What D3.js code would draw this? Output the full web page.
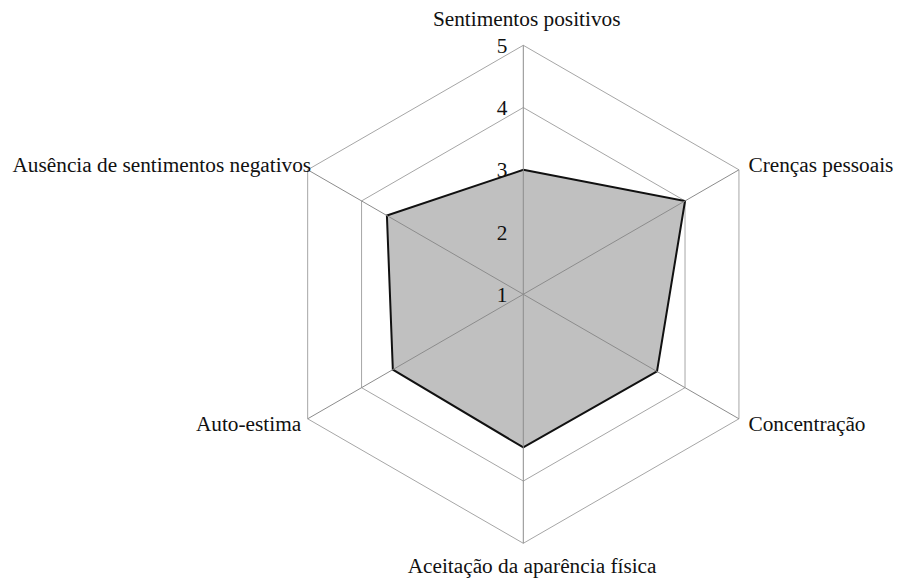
<!DOCTYPE html>
<html>
<head>
<meta charset="utf-8">
<script src="https://cdn.jsdelivr.net/npm/d3@7"></script>
<style>
  body { margin: 0; background: #fff; }
</style>
</head>
<body>
<div id="container"></div>
<script>
const WIDTH = 901;
const HEIGHT = 585;
const CX = 523.3;
const CY = 294.3;
const RADIUS = 249;
const FONT_SIZE = 21.3;
const FONT = "'Liberation Serif', 'DejaVu Serif', 'Times New Roman', serif";

var AXES = ["Sentimentos positivos", "Crenças pessoais", "Concentração",
    "Aceitação da aparência física", "Auto-estima", "Ausência de sentimentos negativos"];
var VALUES = [3.0, 4.0, 3.48, 3.46, 3.42, 3.53];
var TICKS = [1, 2, 3, 4, 5];

var rScale = d3.scaleLinear().domain([1, 5]).range([0, RADIUS]);
var angle = d3.scaleLinear().domain([0, AXES.length]).range([0, 2 * Math.PI]);

var pointAt = function (i, v) {
    var a = angle(i);
    return [CX + rScale(v) * Math.sin(a), CY - rScale(v) * Math.cos(a)];
};

var svg = d3.select("#container").append("svg")
    .attr("width", WIDTH)
    .attr("height", HEIGHT)
    .attr("font-family", FONT)
    .style("font-family", FONT);

var line = d3.line().curve(d3.curveLinearClosed);

// grid rings
svg.append("g").selectAll("path")
    .data(TICKS.slice(1))
    .join("path")
    .attr("d", t => line(AXES.map((_, i) => pointAt(i, t))))
    .attr("fill", "none")
    .attr("stroke", "#a6a6a6")
    .attr("stroke-width", 1);

// data polygon
svg.append("path")
    .attr("d", line(VALUES.map((v, i) => pointAt(i, v))))
    .attr("fill", "#c0c0c0")
    .attr("stroke", "#111")
    .attr("stroke-width", 2)
    .attr("stroke-linejoin", "miter");

// spokes
svg.append("g").selectAll("line")
    .data(AXES)
    .join("line")
    .attr("x1", CX).attr("y1", CY)
    .attr("x2", (d, i) => pointAt(i, 5)[0])
    .attr("y2", (d, i) => pointAt(i, 5)[1])
    .attr("stroke", "#8c8c8c")
    .attr("stroke-width", 1);

// tick labels
svg.append("g").selectAll("text")
    .data(TICKS)
    .join("text")
    .attr("x", CX - 16)
    .attr("y", t => CY - rScale(t))
    .attr("dy", "0.35em")
    .attr("text-anchor", "end")
    .attr("font-size", FONT_SIZE)
    .attr("fill", "#111")
    .text(d => d);

// axis labels
var labelPlace = [
    {anchor: "middle", dx: 3.4, dy: -26.8},
    {anchor: "start", dx: 9.5, dy: -5.6},
    {anchor: "start", dx: 9.5, dy: 4.4},
    {anchor: "middle", dx: 8.8, dy: 22.2},
    {anchor: "end", dx: -6.5, dy: 4.4},
    {anchor: "end", dx: 3.5, dy: -5.6}
];

svg.append("g").selectAll("text")
    .data(AXES)
    .join("text")
    .attr("x", (d, i) => pointAt(i, 5)[0] + labelPlace[i].dx)
    .attr("y", (d, i) => pointAt(i, 5)[1] + labelPlace[i].dy)
    .attr("dy", "0.35em")
    .attr("text-anchor", (d, i) => labelPlace[i].anchor)
    .attr("font-size", FONT_SIZE)
    .attr("fill", "#111")
    .text(d => d);
</script>
</body>
</html>
